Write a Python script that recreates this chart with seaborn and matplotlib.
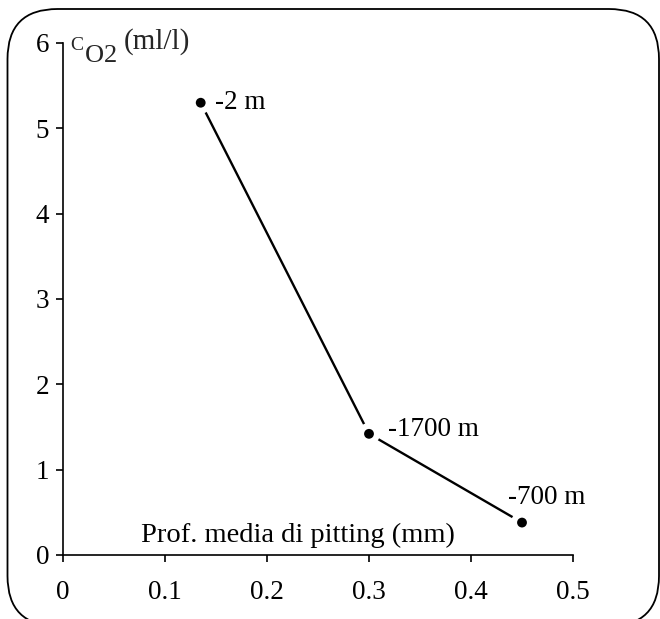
import matplotlib
matplotlib.use("Agg")
import matplotlib.pyplot as plt
import seaborn as sns
import pandas as pd
from matplotlib.patches import FancyBboxPatch

# ---- data ----
pitting_mm = [0.135, 0.30, 0.45]
co2_ml_l = [5.3, 1.42, 0.38]
depth_labels = ["-2 m", "-1700 m", "-700 m"]
x_ticks = [0, 0.1, 0.2, 0.3, 0.4, 0.5]
x_tick_labels = ["0", "0.1", "0.2", "0.3", "0.4", "0.5"]
y_ticks = [0, 1, 2, 3, 4, 5, 6]
y_tick_labels = ["0", "1", "2", "3", "4", "5", "6"]
x_label = "Prof. media di pitting (mm)"

df = pd.DataFrame({"pitting": pitting_mm, "co2": co2_ml_l, "label": depth_labels})

sns.set_theme(style="ticks")
plt.rcParams["font.family"] = ["Liberation Serif", "DejaVu Serif"]

W, H = 660, 619
fig = plt.figure(figsize=(W / 100, H / 100), dpi=100)
fig.patch.set_facecolor("white")


def fx(px):
    return px / W


def fy(py):
    return 1 - py / H


ax = fig.add_axes([fx(63), fy(555), fx(573) - fx(63), fy(43) - fy(555)])
ax.set_facecolor("white")

sns.lineplot(data=df, x="pitting", y="co2", ax=ax, color="black", lw=1.7,
             sort=False, zorder=2)
sns.scatterplot(data=df, x="pitting", y="co2", ax=ax, color="white", s=250,
                edgecolor="none", zorder=3, clip_on=False)
sns.scatterplot(data=df, x="pitting", y="co2", ax=ax, color="black", s=50,
                edgecolor="none", zorder=4, clip_on=False)

offsets = [(10, 0), (14, 3), (-10, 18)]
for xv, yv, lab, off in zip(df["pitting"], df["co2"], df["label"], offsets):
    ax.annotate(lab, (xv, yv), xytext=off, textcoords="offset points",
                ha="left", va="center", fontsize=19.5, color="black", zorder=5)

ax.set_xlim(0, 0.5)
ax.set_ylim(0, 6)
ax.set_xticks(x_ticks, x_tick_labels)
ax.set_yticks(y_ticks, y_tick_labels)
ax.set_xlabel("")
ax.set_ylabel("")
sns.despine(ax=ax)
for s in ("left", "bottom"):
    ax.spines[s].set_linewidth(1.2)
    ax.spines[s].set_color("black")
ax.tick_params(direction="out", length=5, width=1.2, labelsize=19.5,
               colors="black")
ax.tick_params(axis="x", pad=13)
ax.tick_params(axis="y", pad=5)

ax.text(0.0765, 0.15, x_label, fontsize=20.5, va="baseline", ha="left",
        color="black")

# y-axis title: C O2 (ml/l)
fig.text(fx(70.5), fy(50), "C", fontsize=14, va="baseline", ha="left")
fig.text(fx(85), fy(62), "O", fontsize=19, va="baseline", ha="left")
fig.text(fx(104), fy(62), "2", fontsize=19, va="baseline", ha="left")
fig.text(fx(124), fy(49), "(ml/l)", fontsize=21, va="baseline", ha="left")

# rounded frame
box = FancyBboxPatch((fx(7.5), fy(626)), fx(659) - fx(7.5), fy(9) - fy(626),
                     boxstyle="round,pad=0,rounding_size=%f" % (50 / W),
                     mutation_aspect=W / H, transform=fig.transFigure,
                     fill=False, ec="black", lw=1.3, clip_on=False)
fig.add_artist(box)

fig.savefig("out.png", dpi=100)
